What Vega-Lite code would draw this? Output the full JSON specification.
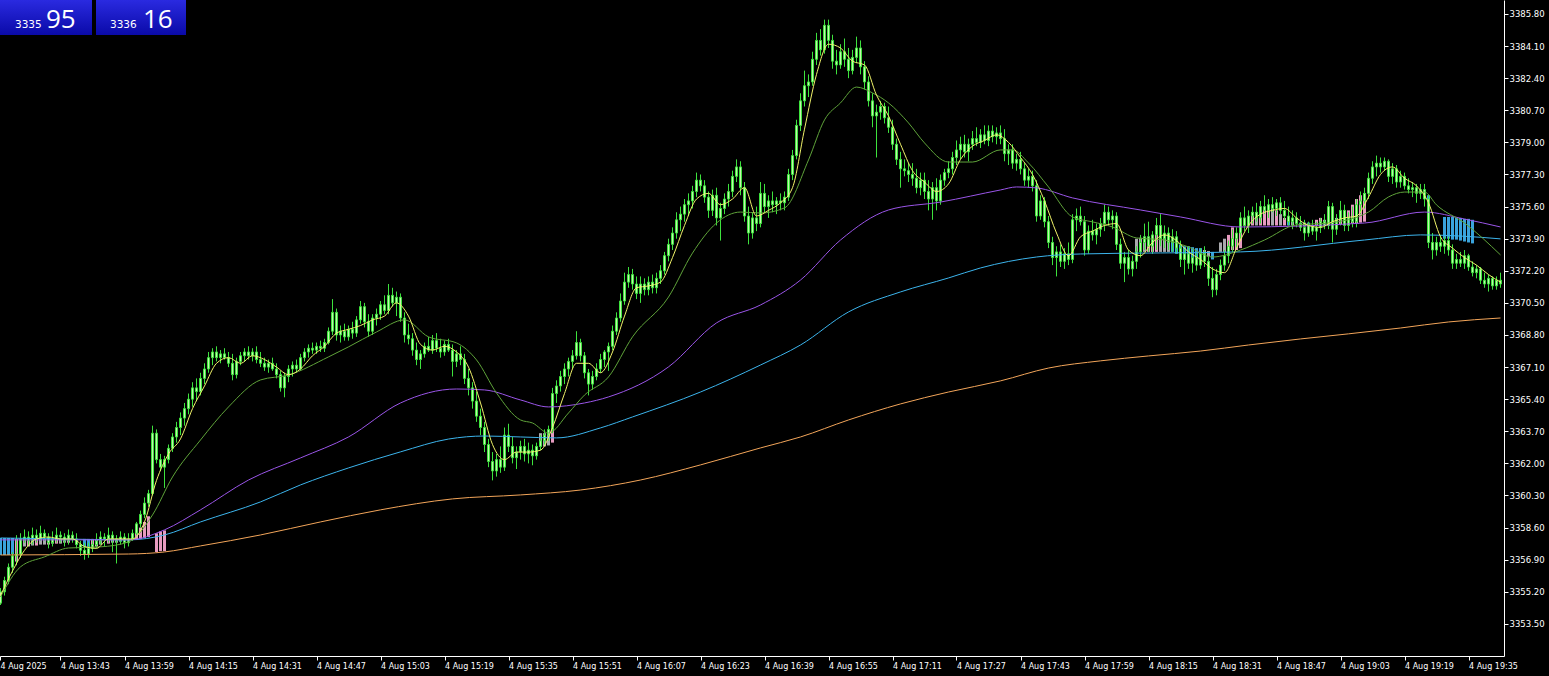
{
"$schema":"https://vega.github.io/schema/vega-lite/v6.json",
"width":1504,"height":656,
"autosize":{"type":"none"},
"padding":{"left":0,"top":0,"right":45,"bottom":20},
"background":"#000000",
"config":{"view":{"stroke":null},"axis":{"grid":false,"domainColor":"#ffffff","tickColor":"#ffffff","labelColor":"#ffffff","labelFont":"DejaVu Sans","labelOverlap":false}},
"datasets":{
"candles":[
{"t":808,"o":3354.6,"h":3355.4,"l":3354.5,"c":3355.2},{"t":809,"o":3355.2,"h":3356.0,"l":3355.0,"c":3355.8},{"t":810,"o":3355.8,"h":3356.7,"l":3355.6,"c":3356.5},{"t":811,"o":3356.5,"h":3357.3,"l":3356.2,"c":3357.1},{"t":812,"o":3357.1,"h":3358.2,"l":3356.6,"c":3357.2},{"t":813,"o":3357.2,"h":3358.3,"l":3357.0,"c":3358.0},
{"t":814,"o":3358.0,"h":3358.5,"l":3357.8,"c":3358.1},{"t":815,"o":3358.1,"h":3358.4,"l":3357.6,"c":3357.9},{"t":816,"o":3357.9,"h":3358.6,"l":3357.7,"c":3358.2},{"t":817,"o":3358.2,"h":3358.5,"l":3357.8,"c":3358.0},{"t":818,"o":3358.0,"h":3358.7,"l":3357.9,"c":3358.3},{"t":819,"o":3358.3,"h":3358.5,"l":3357.9,"c":3358.1},{"t":820,"o":3358.1,"h":3358.3,"l":3357.5,"c":3357.8},{"t":821,"o":3357.8,"h":3358.4,"l":3357.6,"c":3358.0},{"t":822,"o":3358.0,"h":3358.6,"l":3357.8,"c":3358.2},{"t":823,"o":3358.2,"h":3358.4,"l":3357.8,"c":3358.1},{"t":824,"o":3358.1,"h":3358.3,"l":3357.6,"c":3357.9},{"t":825,"o":3357.9,"h":3358.5,"l":3357.7,"c":3358.2},{"t":826,"o":3358.2,"h":3358.4,"l":3357.8,"c":3358.0},{"t":827,"o":3358.0,"h":3358.3,"l":3357.5,"c":3357.7},{"t":828,"o":3357.7,"h":3357.9,"l":3357.1,"c":3357.4},{"t":829,"o":3357.4,"h":3357.8,"l":3356.9,"c":3357.2},{"t":830,"o":3357.2,"h":3357.8,"l":3357.0,"c":3357.5},{"t":831,"o":3357.5,"h":3358.0,"l":3357.3,"c":3357.7},{"t":832,"o":3357.7,"h":3358.3,"l":3357.5,"c":3357.9},{"t":833,"o":3357.9,"h":3358.4,"l":3357.7,"c":3358.1},{"t":834,"o":3358.1,"h":3358.3,"l":3357.6,"c":3358.0},{"t":835,"o":3358.0,"h":3358.6,"l":3357.8,"c":3358.2},{"t":836,"o":3358.2,"h":3358.4,"l":3357.3,"c":3358.0},{"t":837,"o":3358.0,"h":3358.2,"l":3356.7,"c":3357.9},{"t":838,"o":3357.9,"h":3358.4,"l":3357.7,"c":3358.1},{"t":839,"o":3358.1,"h":3358.3,"l":3357.5,"c":3357.8},{"t":840,"o":3357.8,"h":3358.3,"l":3357.6,"c":3358.0},
{"t":841,"o":3358.0,"h":3358.5,"l":3357.9,"c":3358.3},{"t":842,"o":3358.3,"h":3358.9,"l":3358.2,"c":3358.8},{"t":843,"o":3358.8,"h":3359.5,"l":3358.6,"c":3359.3},{"t":844,"o":3359.3,"h":3360.2,"l":3359.1,"c":3359.9},{"t":845,"o":3359.9,"h":3360.6,"l":3359.7,"c":3360.4},{"t":846,"o":3360.4,"h":3364.0,"l":3360.3,"c":3363.6},{"t":847,"o":3363.6,"h":3363.8,"l":3362.0,"c":3362.2},{"t":848,"o":3362.2,"h":3362.5,"l":3361.6,"c":3361.8},{"t":849,"o":3361.8,"h":3362.4,"l":3360.7,"c":3362.2},{"t":850,"o":3362.2,"h":3363.0,"l":3362.0,"c":3362.8},{"t":851,"o":3362.8,"h":3363.6,"l":3362.6,"c":3363.4},{"t":852,"o":3363.4,"h":3364.2,"l":3363.1,"c":3363.9},{"t":853,"o":3363.9,"h":3364.7,"l":3363.5,"c":3364.4},{"t":854,"o":3364.4,"h":3365.2,"l":3364.0,"c":3364.9},{"t":855,"o":3364.9,"h":3365.7,"l":3364.6,"c":3365.4},{"t":856,"o":3365.4,"h":3366.3,"l":3365.0,"c":3366.0},{"t":857,"o":3366.0,"h":3366.5,"l":3365.3,"c":3365.8},{"t":858,"o":3365.8,"h":3366.8,"l":3365.6,"c":3366.5},{"t":859,"o":3366.5,"h":3367.3,"l":3366.2,"c":3367.0},{"t":860,"o":3367.0,"h":3367.9,"l":3366.8,"c":3367.6},{"t":861,"o":3367.6,"h":3368.1,"l":3367.2,"c":3367.9},{"t":862,"o":3367.9,"h":3368.2,"l":3367.4,"c":3367.6},{"t":863,"o":3367.6,"h":3368.0,"l":3367.3,"c":3367.8},{"t":864,"o":3367.8,"h":3368.1,"l":3367.5,"c":3367.6},{"t":865,"o":3367.6,"h":3367.9,"l":3367.1,"c":3367.3},{"t":866,"o":3367.3,"h":3367.8,"l":3366.4,"c":3366.7},{"t":867,"o":3366.7,"h":3367.6,"l":3366.5,"c":3367.4},{"t":868,"o":3367.4,"h":3367.9,"l":3367.2,"c":3367.7},{"t":869,"o":3367.7,"h":3368.1,"l":3367.4,"c":3367.9},{"t":870,"o":3367.9,"h":3368.2,"l":3367.5,"c":3367.7},{"t":871,"o":3367.7,"h":3368.1,"l":3367.4,"c":3367.9},{"t":872,"o":3367.9,"h":3368.2,"l":3367.3,"c":3367.5},
{"t":873,"o":3367.5,"h":3367.9,"l":3367.1,"c":3367.3},{"t":874,"o":3367.3,"h":3367.6,"l":3366.9,"c":3367.1},{"t":875,"o":3367.1,"h":3367.5,"l":3366.8,"c":3367.3},{"t":876,"o":3367.3,"h":3367.6,"l":3366.9,"c":3367.0},{"t":877,"o":3367.0,"h":3367.3,"l":3366.5,"c":3366.7},{"t":878,"o":3366.7,"h":3366.9,"l":3365.8,"c":3366.0},{"t":879,"o":3366.0,"h":3366.8,"l":3365.5,"c":3366.6},{"t":880,"o":3366.6,"h":3367.2,"l":3366.3,"c":3367.0},{"t":881,"o":3367.0,"h":3367.4,"l":3366.6,"c":3367.2},{"t":882,"o":3367.2,"h":3367.5,"l":3366.8,"c":3367.0},{"t":883,"o":3367.0,"h":3367.8,"l":3366.9,"c":3367.6},{"t":884,"o":3367.6,"h":3368.1,"l":3367.4,"c":3367.9},{"t":885,"o":3367.9,"h":3368.3,"l":3367.6,"c":3368.1},{"t":886,"o":3368.1,"h":3368.4,"l":3367.8,"c":3368.0},{"t":887,"o":3368.0,"h":3368.4,"l":3367.8,"c":3368.2},{"t":888,"o":3368.2,"h":3368.5,"l":3367.9,"c":3368.1},{"t":889,"o":3368.1,"h":3368.6,"l":3367.9,"c":3368.4},{"t":890,"o":3368.4,"h":3369.2,"l":3368.3,"c":3369.0},{"t":891,"o":3369.0,"h":3370.7,"l":3368.8,"c":3370.0},{"t":892,"o":3370.0,"h":3370.2,"l":3368.5,"c":3368.8},{"t":893,"o":3368.8,"h":3369.3,"l":3368.4,"c":3369.0},{"t":894,"o":3369.0,"h":3369.4,"l":3368.5,"c":3368.7},{"t":895,"o":3368.7,"h":3369.3,"l":3368.5,"c":3369.1},{"t":896,"o":3369.1,"h":3369.5,"l":3368.6,"c":3368.9},{"t":897,"o":3368.9,"h":3369.8,"l":3368.7,"c":3369.6},{"t":898,"o":3369.6,"h":3370.6,"l":3369.4,"c":3370.3},{"t":899,"o":3370.3,"h":3370.5,"l":3369.2,"c":3369.5},{"t":900,"o":3369.5,"h":3369.9,"l":3368.7,"c":3369.0},{"t":901,"o":3369.0,"h":3369.9,"l":3368.8,"c":3369.7},{"t":902,"o":3369.7,"h":3370.2,"l":3369.3,"c":3369.9},{"t":903,"o":3369.9,"h":3370.6,"l":3369.6,"c":3370.4},{"t":904,"o":3370.4,"h":3370.9,"l":3369.9,"c":3370.1},{"t":905,"o":3370.1,"h":3371.5,"l":3369.9,"c":3370.9},{"t":906,"o":3370.9,"h":3371.3,"l":3370.3,"c":3370.5},{"t":907,"o":3370.5,"h":3371.1,"l":3369.8,"c":3370.8},
{"t":908,"o":3370.8,"h":3371.0,"l":3369.5,"c":3369.7},{"t":909,"o":3369.7,"h":3370.0,"l":3368.4,"c":3368.8},{"t":910,"o":3368.8,"h":3369.4,"l":3368.3,"c":3368.6},{"t":911,"o":3368.6,"h":3368.9,"l":3367.7,"c":3368.0},{"t":912,"o":3368.0,"h":3368.4,"l":3367.2,"c":3367.5},{"t":913,"o":3367.5,"h":3368.0,"l":3367.0,"c":3367.8},{"t":914,"o":3367.8,"h":3368.4,"l":3367.6,"c":3368.2},{"t":915,"o":3368.2,"h":3368.7,"l":3367.9,"c":3368.0},{"t":916,"o":3368.0,"h":3368.8,"l":3367.8,"c":3368.5},{"t":917,"o":3368.5,"h":3368.9,"l":3367.9,"c":3368.1},{"t":918,"o":3368.1,"h":3368.6,"l":3367.6,"c":3367.9},{"t":919,"o":3367.9,"h":3368.5,"l":3367.7,"c":3368.3},{"t":920,"o":3368.3,"h":3368.6,"l":3367.9,"c":3368.0},{"t":921,"o":3368.0,"h":3368.3,"l":3366.6,"c":3367.4},{"t":922,"o":3367.4,"h":3368.0,"l":3367.1,"c":3367.8},{"t":923,"o":3367.8,"h":3368.2,"l":3367.2,"c":3367.5},{"t":924,"o":3367.5,"h":3367.8,"l":3366.2,"c":3366.5},{"t":925,"o":3366.5,"h":3367.0,"l":3365.6,"c":3366.0},{"t":926,"o":3366.0,"h":3366.3,"l":3364.9,"c":3365.3},{"t":927,"o":3365.3,"h":3365.8,"l":3364.2,"c":3364.5},{"t":928,"o":3364.5,"h":3364.9,"l":3363.5,"c":3363.9},{"t":929,"o":3363.9,"h":3364.2,"l":3362.6,"c":3363.0},{"t":930,"o":3363.0,"h":3363.3,"l":3361.8,"c":3362.1},{"t":931,"o":3362.1,"h":3362.6,"l":3361.1,"c":3361.6},{"t":932,"o":3361.6,"h":3362.5,"l":3361.3,"c":3362.2},{"t":933,"o":3362.2,"h":3362.9,"l":3361.5,"c":3361.8},{"t":934,"o":3361.8,"h":3363.9,"l":3361.6,"c":3363.5},{"t":935,"o":3363.5,"h":3364.1,"l":3362.6,"c":3362.9},{"t":936,"o":3362.9,"h":3363.4,"l":3362.0,"c":3362.3},{"t":937,"o":3362.3,"h":3362.9,"l":3361.7,"c":3362.6},{"t":938,"o":3362.6,"h":3363.2,"l":3362.2,"c":3362.9},{"t":939,"o":3362.9,"h":3363.3,"l":3362.1,"c":3362.5},{"t":940,"o":3362.5,"h":3363.1,"l":3362.0,"c":3362.7},{"t":941,"o":3362.7,"h":3363.0,"l":3361.9,"c":3362.4},{"t":942,"o":3362.4,"h":3363.1,"l":3362.2,"c":3362.9},{"t":943,"o":3362.9,"h":3363.5,"l":3362.7,"c":3363.2},{"t":944,"o":3363.2,"h":3363.8,"l":3363.0,"c":3363.5},{"t":945,"o":3363.5,"h":3364.0,"l":3363.2,"c":3363.8},
{"t":946,"o":3363.8,"h":3366.0,"l":3363.6,"c":3365.7},{"t":947,"o":3365.7,"h":3366.4,"l":3365.2,"c":3366.1},{"t":948,"o":3366.1,"h":3366.9,"l":3365.8,"c":3366.6},{"t":949,"o":3366.6,"h":3367.3,"l":3366.2,"c":3367.0},{"t":950,"o":3367.0,"h":3367.6,"l":3366.6,"c":3367.4},{"t":951,"o":3367.4,"h":3368.0,"l":3367.0,"c":3367.7},{"t":952,"o":3367.7,"h":3369.0,"l":3367.5,"c":3368.4},{"t":953,"o":3368.4,"h":3368.6,"l":3367.4,"c":3367.7},{"t":954,"o":3367.7,"h":3367.9,"l":3366.5,"c":3366.8},{"t":955,"o":3366.8,"h":3367.0,"l":3365.6,"c":3366.2},{"t":956,"o":3366.2,"h":3366.9,"l":3365.9,"c":3366.6},{"t":957,"o":3366.6,"h":3367.3,"l":3366.4,"c":3367.0},{"t":958,"o":3367.0,"h":3367.8,"l":3366.8,"c":3367.5},{"t":959,"o":3367.5,"h":3368.0,"l":3367.1,"c":3367.9},{"t":960,"o":3367.9,"h":3368.4,"l":3366.9,"c":3368.2},{"t":961,"o":3368.2,"h":3369.3,"l":3368.0,"c":3369.0},{"t":962,"o":3369.0,"h":3370.0,"l":3368.8,"c":3369.7},{"t":963,"o":3369.7,"h":3371.0,"l":3369.5,"c":3370.6},{"t":964,"o":3370.6,"h":3372.1,"l":3370.4,"c":3371.6},{"t":965,"o":3371.6,"h":3372.4,"l":3371.3,"c":3372.0},{"t":966,"o":3372.0,"h":3372.3,"l":3371.2,"c":3371.5},{"t":967,"o":3371.5,"h":3371.9,"l":3370.7,"c":3371.0},{"t":968,"o":3371.0,"h":3371.9,"l":3370.5,"c":3371.5},{"t":969,"o":3371.5,"h":3371.8,"l":3370.9,"c":3371.2},{"t":970,"o":3371.2,"h":3371.9,"l":3370.9,"c":3371.6},{"t":971,"o":3371.6,"h":3372.0,"l":3371.0,"c":3371.3},{"t":972,"o":3371.3,"h":3372.1,"l":3371.0,"c":3371.8},{"t":973,"o":3371.8,"h":3372.5,"l":3371.5,"c":3372.2},{"t":974,"o":3372.2,"h":3373.2,"l":3372.0,"c":3373.0},{"t":975,"o":3373.0,"h":3373.9,"l":3372.7,"c":3373.6},{"t":976,"o":3373.6,"h":3374.5,"l":3373.3,"c":3374.2},{"t":977,"o":3374.2,"h":3375.3,"l":3373.9,"c":3374.9},{"t":978,"o":3374.9,"h":3375.6,"l":3374.3,"c":3375.2},{"t":979,"o":3375.2,"h":3376.0,"l":3374.8,"c":3375.7},{"t":980,"o":3375.7,"h":3376.3,"l":3375.1,"c":3375.9},{"t":981,"o":3375.9,"h":3376.7,"l":3375.5,"c":3376.4},{"t":982,"o":3376.4,"h":3377.4,"l":3376.1,"c":3377.0},{"t":983,"o":3377.0,"h":3377.3,"l":3376.4,"c":3376.7},{"t":984,"o":3376.7,"h":3377.0,"l":3375.8,"c":3376.1},{"t":985,"o":3376.1,"h":3376.4,"l":3375.0,"c":3375.4},{"t":986,"o":3375.4,"h":3376.5,"l":3375.1,"c":3376.2},{"t":987,"o":3376.2,"h":3376.6,"l":3374.6,"c":3375.0},{"t":988,"o":3375.0,"h":3375.8,"l":3373.8,"c":3375.5},{"t":989,"o":3375.5,"h":3376.3,"l":3375.2,"c":3376.0},{"t":990,"o":3376.0,"h":3376.8,"l":3375.6,"c":3376.4},{"t":991,"o":3376.4,"h":3377.5,"l":3376.1,"c":3377.2},{"t":992,"o":3377.2,"h":3378.1,"l":3376.9,"c":3377.7},{"t":993,"o":3377.7,"h":3378.0,"l":3376.2,"c":3376.6},{"t":994,"o":3376.6,"h":3376.9,"l":3374.8,"c":3375.1},{"t":995,"o":3375.1,"h":3375.6,"l":3373.6,"c":3374.2},{"t":996,"o":3374.2,"h":3375.3,"l":3373.9,"c":3375.0},{"t":997,"o":3375.0,"h":3375.6,"l":3374.3,"c":3374.7},
{"t":998,"o":3374.7,"h":3376.9,"l":3374.5,"c":3376.3},{"t":999,"o":3376.3,"h":3376.8,"l":3375.3,"c":3375.6},{"t":1000,"o":3375.6,"h":3376.2,"l":3375.0,"c":3375.9},{"t":1001,"o":3375.9,"h":3376.4,"l":3375.3,"c":3375.7},{"t":1002,"o":3375.7,"h":3376.1,"l":3375.2,"c":3375.9},{"t":1003,"o":3375.9,"h":3376.3,"l":3375.4,"c":3375.8},{"t":1004,"o":3375.8,"h":3376.4,"l":3375.4,"c":3376.1},{"t":1005,"o":3376.1,"h":3377.6,"l":3375.9,"c":3377.3},{"t":1006,"o":3377.3,"h":3378.6,"l":3377.0,"c":3378.3},{"t":1007,"o":3378.3,"h":3380.2,"l":3378.1,"c":3379.9},{"t":1008,"o":3379.9,"h":3381.6,"l":3379.6,"c":3381.2},{"t":1009,"o":3381.2,"h":3382.8,"l":3380.9,"c":3382.0},{"t":1010,"o":3382.0,"h":3382.6,"l":3381.4,"c":3382.2},{"t":1011,"o":3382.2,"h":3383.8,"l":3382.0,"c":3383.4},{"t":1012,"o":3383.4,"h":3384.8,"l":3383.1,"c":3384.4},{"t":1013,"o":3384.4,"h":3385.0,"l":3383.6,"c":3383.9},{"t":1014,"o":3383.9,"h":3385.5,"l":3383.7,"c":3385.2},{"t":1015,"o":3385.2,"h":3385.5,"l":3384.0,"c":3384.4},{"t":1016,"o":3384.4,"h":3384.7,"l":3382.9,"c":3383.3},{"t":1017,"o":3383.3,"h":3383.9,"l":3382.6,"c":3383.1},{"t":1018,"o":3383.1,"h":3384.2,"l":3382.9,"c":3383.8},{"t":1019,"o":3383.8,"h":3384.5,"l":3383.0,"c":3383.4},{"t":1020,"o":3383.4,"h":3384.0,"l":3382.4,"c":3382.8},{"t":1021,"o":3382.8,"h":3383.9,"l":3382.6,"c":3383.5},{"t":1022,"o":3383.5,"h":3384.6,"l":3383.2,"c":3384.0},{"t":1023,"o":3384.0,"h":3384.4,"l":3382.6,"c":3383.0},{"t":1024,"o":3383.0,"h":3383.3,"l":3381.8,"c":3382.2},{"t":1025,"o":3382.2,"h":3382.5,"l":3380.9,"c":3381.2},{"t":1026,"o":3381.2,"h":3381.6,"l":3379.8,"c":3380.4},{"t":1027,"o":3380.4,"h":3381.0,"l":3378.2,"c":3380.6},{"t":1028,"o":3380.6,"h":3381.2,"l":3380.2,"c":3380.9},{"t":1029,"o":3380.9,"h":3381.1,"l":3380.0,"c":3380.3},{"t":1030,"o":3380.3,"h":3380.9,"l":3379.5,"c":3379.8},{"t":1031,"o":3379.8,"h":3380.2,"l":3378.6,"c":3378.9},{"t":1032,"o":3378.9,"h":3379.2,"l":3377.8,"c":3378.1},{"t":1033,"o":3378.1,"h":3378.5,"l":3376.6,"c":3377.6},{"t":1034,"o":3377.6,"h":3378.1,"l":3377.2,"c":3377.5},{"t":1035,"o":3377.5,"h":3377.9,"l":3376.9,"c":3377.3},{"t":1036,"o":3377.3,"h":3377.9,"l":3376.7,"c":3377.1},{"t":1037,"o":3377.1,"h":3377.6,"l":3376.3,"c":3376.6},{"t":1038,"o":3376.6,"h":3377.4,"l":3376.2,"c":3377.0},{"t":1039,"o":3377.0,"h":3377.4,"l":3376.0,"c":3376.4},{"t":1040,"o":3376.4,"h":3377.0,"l":3375.4,"c":3376.0},{"t":1041,"o":3376.0,"h":3376.9,"l":3374.9,"c":3376.6},{"t":1042,"o":3376.6,"h":3377.1,"l":3375.4,"c":3375.9},{"t":1043,"o":3375.9,"h":3377.3,"l":3375.7,"c":3377.0},{"t":1044,"o":3377.0,"h":3377.6,"l":3376.7,"c":3377.4},{"t":1045,"o":3377.4,"h":3378.0,"l":3377.1,"c":3377.6},{"t":1046,"o":3377.6,"h":3378.5,"l":3377.3,"c":3378.2},{"t":1047,"o":3378.2,"h":3379.1,"l":3377.8,"c":3378.6},{"t":1048,"o":3378.6,"h":3379.3,"l":3378.1,"c":3378.9},{"t":1049,"o":3378.9,"h":3379.4,"l":3378.2,"c":3378.5},{"t":1050,"o":3378.5,"h":3379.2,"l":3378.0,"c":3378.9},{"t":1051,"o":3378.9,"h":3379.6,"l":3378.6,"c":3379.2},{"t":1052,"o":3379.2,"h":3379.8,"l":3378.8,"c":3379.0},{"t":1053,"o":3379.0,"h":3379.7,"l":3378.7,"c":3379.4},{"t":1054,"o":3379.4,"h":3379.9,"l":3378.9,"c":3379.1},{"t":1055,"o":3379.1,"h":3379.9,"l":3378.8,"c":3379.6},{"t":1056,"o":3379.6,"h":3379.9,"l":3379.0,"c":3379.3},{"t":1057,"o":3379.3,"h":3379.8,"l":3378.9,"c":3379.5},
{"t":1058,"o":3379.5,"h":3379.9,"l":3378.9,"c":3379.2},{"t":1059,"o":3379.2,"h":3379.7,"l":3378.0,"c":3378.4},{"t":1060,"o":3378.4,"h":3378.9,"l":3377.8,"c":3378.6},{"t":1061,"o":3378.6,"h":3378.9,"l":3377.6,"c":3377.9},{"t":1062,"o":3377.9,"h":3378.4,"l":3377.5,"c":3378.1},{"t":1063,"o":3378.1,"h":3378.5,"l":3377.3,"c":3377.6},{"t":1064,"o":3377.6,"h":3377.9,"l":3376.7,"c":3377.0},{"t":1065,"o":3377.0,"h":3377.6,"l":3376.6,"c":3377.2},{"t":1066,"o":3377.2,"h":3377.5,"l":3376.4,"c":3376.7},{"t":1067,"o":3376.7,"h":3377.0,"l":3374.8,"c":3375.1},{"t":1068,"o":3375.1,"h":3376.2,"l":3374.9,"c":3375.9},{"t":1069,"o":3375.9,"h":3376.1,"l":3374.5,"c":3374.8},{"t":1070,"o":3374.8,"h":3375.1,"l":3373.4,"c":3373.7},{"t":1071,"o":3373.7,"h":3374.0,"l":3372.5,"c":3372.9},{"t":1072,"o":3372.9,"h":3373.5,"l":3371.9,"c":3373.2},{"t":1073,"o":3373.2,"h":3373.6,"l":3372.4,"c":3372.7},{"t":1074,"o":3372.7,"h":3373.4,"l":3372.3,"c":3373.1},{"t":1075,"o":3373.1,"h":3373.7,"l":3372.5,"c":3372.8},{"t":1076,"o":3372.8,"h":3375.2,"l":3372.6,"c":3374.9},{"t":1077,"o":3374.9,"h":3375.5,"l":3374.3,"c":3375.1},{"t":1078,"o":3375.1,"h":3375.6,"l":3374.6,"c":3374.8},{"t":1079,"o":3374.8,"h":3375.1,"l":3373.0,"c":3373.3},{"t":1080,"o":3373.3,"h":3374.6,"l":3373.1,"c":3374.3},{"t":1081,"o":3374.3,"h":3374.9,"l":3373.8,"c":3374.1},{"t":1082,"o":3374.1,"h":3374.7,"l":3373.6,"c":3374.4},{"t":1083,"o":3374.4,"h":3375.0,"l":3374.0,"c":3374.7},{"t":1084,"o":3374.7,"h":3375.7,"l":3374.3,"c":3375.3},{"t":1085,"o":3375.3,"h":3375.6,"l":3374.6,"c":3374.9},{"t":1086,"o":3374.9,"h":3375.4,"l":3374.4,"c":3375.1},{"t":1087,"o":3375.1,"h":3375.3,"l":3373.3,"c":3373.6},{"t":1088,"o":3373.6,"h":3373.9,"l":3372.3,"c":3372.6},{"t":1089,"o":3372.6,"h":3373.2,"l":3371.6,"c":3372.9},{"t":1090,"o":3372.9,"h":3373.3,"l":3372.0,"c":3372.3},{"t":1091,"o":3372.3,"h":3373.0,"l":3371.9,"c":3372.7},{"t":1092,"o":3372.7,"h":3373.5,"l":3372.3,"c":3373.2},{"t":1093,"o":3373.2,"h":3374.1,"l":3372.9,"c":3373.7},{"t":1094,"o":3373.7,"h":3374.7,"l":3373.3,"c":3374.0},{"t":1095,"o":3374.0,"h":3374.8,"l":3373.2,"c":3373.5},{"t":1096,"o":3373.5,"h":3374.3,"l":3373.1,"c":3374.1},{"t":1097,"o":3374.1,"h":3375.0,"l":3373.3,"c":3374.6},{"t":1098,"o":3374.6,"h":3375.2,"l":3373.5,"c":3373.9},{"t":1099,"o":3373.9,"h":3374.6,"l":3373.4,"c":3374.2},{"t":1100,"o":3374.2,"h":3374.5,"l":3373.3,"c":3373.7},{"t":1101,"o":3373.7,"h":3374.4,"l":3373.2,"c":3374.0},{"t":1102,"o":3374.0,"h":3374.3,"l":3373.1,"c":3373.4},{"t":1103,"o":3373.4,"h":3373.8,"l":3372.4,"c":3372.8},{"t":1104,"o":3372.8,"h":3373.4,"l":3372.0,"c":3373.1},{"t":1105,"o":3373.1,"h":3373.5,"l":3372.3,"c":3372.6},{"t":1106,"o":3372.6,"h":3373.3,"l":3372.1,"c":3372.9},{"t":1107,"o":3372.9,"h":3373.2,"l":3372.2,"c":3372.5},{"t":1108,"o":3372.5,"h":3373.4,"l":3372.3,"c":3373.1},{"t":1109,"o":3373.1,"h":3373.5,"l":3372.4,"c":3372.7},{"t":1110,"o":3372.7,"h":3373.0,"l":3371.4,"c":3371.8},{"t":1111,"o":3371.8,"h":3372.4,"l":3370.8,"c":3371.2},{"t":1112,"o":3371.2,"h":3372.3,"l":3370.9,"c":3372.0},{"t":1113,"o":3372.0,"h":3372.8,"l":3371.7,"c":3372.5},{"t":1114,"o":3372.5,"h":3373.3,"l":3372.2,"c":3373.0},{"t":1115,"o":3373.0,"h":3373.8,"l":3372.6,"c":3373.5},{"t":1116,"o":3373.5,"h":3374.4,"l":3373.2,"c":3373.9},{"t":1117,"o":3373.9,"h":3374.5,"l":3373.4,"c":3374.2},
{"t":1118,"o":3374.2,"h":3375.3,"l":3373.9,"c":3375.0},{"t":1119,"o":3375.0,"h":3375.6,"l":3374.3,"c":3374.6},{"t":1120,"o":3374.6,"h":3375.4,"l":3374.2,"c":3375.1},{"t":1121,"o":3375.1,"h":3375.6,"l":3374.7,"c":3375.3},{"t":1122,"o":3375.3,"h":3375.8,"l":3374.8,"c":3375.0},{"t":1123,"o":3375.0,"h":3375.9,"l":3374.7,"c":3375.6},{"t":1124,"o":3375.6,"h":3376.2,"l":3375.2,"c":3375.4},{"t":1125,"o":3375.4,"h":3376.0,"l":3375.0,"c":3375.7},{"t":1126,"o":3375.7,"h":3376.1,"l":3375.3,"c":3375.5},{"t":1127,"o":3375.5,"h":3376.0,"l":3375.1,"c":3375.8},{"t":1128,"o":3375.8,"h":3376.1,"l":3375.2,"c":3375.4},{"t":1129,"o":3375.4,"h":3375.9,"l":3374.9,"c":3375.1},{"t":1130,"o":3375.1,"h":3375.6,"l":3374.6,"c":3374.8},{"t":1131,"o":3374.8,"h":3375.4,"l":3374.4,"c":3375.0},{"t":1132,"o":3375.0,"h":3375.3,"l":3374.5,"c":3374.7},{"t":1133,"o":3374.7,"h":3375.1,"l":3374.3,"c":3374.5},{"t":1134,"o":3374.5,"h":3374.9,"l":3373.8,"c":3374.2},{"t":1135,"o":3374.2,"h":3374.8,"l":3374.0,"c":3374.6},{"t":1136,"o":3374.6,"h":3374.9,"l":3374.1,"c":3374.3},{"t":1137,"o":3374.3,"h":3374.8,"l":3373.8,"c":3374.5},{"t":1138,"o":3374.5,"h":3375.0,"l":3374.2,"c":3374.8},{"t":1139,"o":3374.8,"h":3375.2,"l":3374.4,"c":3374.6},{"t":1140,"o":3374.6,"h":3375.9,"l":3374.4,"c":3375.6},{"t":1141,"o":3375.6,"h":3375.8,"l":3373.7,"c":3374.4},{"t":1142,"o":3374.4,"h":3375.2,"l":3374.1,"c":3374.9},{"t":1143,"o":3374.9,"h":3375.9,"l":3374.6,"c":3375.4},{"t":1144,"o":3375.4,"h":3375.7,"l":3374.3,"c":3374.6},{"t":1145,"o":3374.6,"h":3375.3,"l":3374.3,"c":3375.0},{"t":1146,"o":3375.0,"h":3375.6,"l":3374.5,"c":3374.8},{"t":1147,"o":3374.8,"h":3376.0,"l":3374.5,"c":3375.7},{"t":1148,"o":3375.7,"h":3376.4,"l":3375.2,"c":3375.9},{"t":1149,"o":3375.9,"h":3376.6,"l":3375.5,"c":3376.3},{"t":1150,"o":3376.3,"h":3377.4,"l":3376.0,"c":3377.1},{"t":1151,"o":3377.1,"h":3378.0,"l":3376.8,"c":3377.7},{"t":1152,"o":3377.7,"h":3378.3,"l":3377.2,"c":3377.9},{"t":1153,"o":3377.9,"h":3378.2,"l":3377.4,"c":3377.7},{"t":1154,"o":3377.7,"h":3378.2,"l":3377.5,"c":3378.0},{"t":1155,"o":3378.0,"h":3378.1,"l":3376.9,"c":3377.2},{"t":1156,"o":3377.2,"h":3377.9,"l":3376.8,"c":3377.6},{"t":1157,"o":3377.6,"h":3377.8,"l":3376.6,"c":3376.9},{"t":1158,"o":3376.9,"h":3377.5,"l":3376.6,"c":3377.2},{"t":1159,"o":3377.2,"h":3377.4,"l":3376.5,"c":3376.7},{"t":1160,"o":3376.7,"h":3377.1,"l":3376.3,"c":3376.5},{"t":1161,"o":3376.5,"h":3376.9,"l":3376.1,"c":3376.6},{"t":1162,"o":3376.6,"h":3376.8,"l":3375.8,"c":3376.3},{"t":1163,"o":3376.3,"h":3376.8,"l":3376.0,"c":3376.5},{"t":1164,"o":3376.5,"h":3376.8,"l":3375.6,"c":3376.0},{"t":1165,"o":3376.0,"h":3376.2,"l":3373.4,"c":3373.7},{"t":1166,"o":3373.7,"h":3374.2,"l":3372.8,"c":3373.3},{"t":1167,"o":3373.3,"h":3374.0,"l":3373.0,"c":3373.7},{"t":1168,"o":3373.7,"h":3374.1,"l":3373.2,"c":3373.5},{"t":1169,"o":3373.5,"h":3374.0,"l":3373.1,"c":3373.8},{"t":1170,"o":3373.8,"h":3374.0,"l":3373.0,"c":3373.3},{"t":1171,"o":3373.3,"h":3373.6,"l":3372.3,"c":3372.6},{"t":1172,"o":3372.6,"h":3373.1,"l":3372.3,"c":3372.8},{"t":1173,"o":3372.8,"h":3373.2,"l":3372.4,"c":3372.6},{"t":1174,"o":3372.6,"h":3373.3,"l":3372.3,"c":3373.0},{"t":1175,"o":3373.0,"h":3373.1,"l":3372.2,"c":3372.4},{"t":1176,"o":3372.4,"h":3372.7,"l":3371.9,"c":3372.1},{"t":1177,"o":3372.1,"h":3372.5,"l":3371.8,"c":3372.3},{"t":1178,"o":3372.3,"h":3372.4,"l":3371.5,"c":3371.7},{"t":1179,"o":3371.7,"h":3372.1,"l":3371.3,"c":3371.5},{"t":1180,"o":3371.5,"h":3372.0,"l":3371.1,"c":3371.8},{"t":1181,"o":3371.8,"h":3371.9,"l":3371.2,"c":3371.4},{"t":1182,"o":3371.4,"h":3371.9,"l":3371.2,"c":3371.7},{"t":1183,"o":3371.7,"h":3372.1,"l":3371.3,"c":3371.5}
],
"ma":[
{"s":"ma200","t":808,"p":3357.15},{"s":"ma200","t":840,"p":3357.2},{"s":"ma200","t":849,"p":3357.31},{"s":"ma200","t":858,"p":3357.63},{"s":"ma200","t":873,"p":3358.21},{"s":"ma200","t":888,"p":3358.9},{"s":"ma200","t":903,"p":3359.54},{"s":"ma200","t":921,"p":3360.12},{"s":"ma200","t":938,"p":3360.33},{"s":"ma200","t":953,"p":3360.59},{"s":"ma200","t":968,"p":3361.12},{"s":"ma200","t":983,"p":3361.92},{"s":"ma200","t":998,"p":3362.82},{"s":"ma200","t":1008,"p":3363.4},{"s":"ma200","t":1020,"p":3364.3},{"s":"ma200","t":1033,"p":3365.15},{"s":"ma200","t":1045,"p":3365.78},{"s":"ma200","t":1058,"p":3366.37},{"s":"ma200","t":1070,"p":3367.05},{"s":"ma200","t":1083,"p":3367.43},{"s":"ma200","t":1095,"p":3367.69},{"s":"ma200","t":1108,"p":3367.95},{"s":"ma200","t":1120,"p":3368.27},{"s":"ma200","t":1133,"p":3368.59},{"s":"ma200","t":1145,"p":3368.86},{"s":"ma200","t":1158,"p":3369.17},{"s":"ma200","t":1170,"p":3369.49},{"s":"ma200","t":1183,"p":3369.7},
{"s":"ma100","t":808,"p":3358.05},{"s":"ma100","t":823,"p":3358.0},{"s":"ma100","t":840,"p":3357.95},{"s":"ma100","t":849,"p":3358.21},{"s":"ma100","t":858,"p":3358.9},{"s":"ma100","t":873,"p":3359.96},{"s":"ma100","t":883,"p":3360.86},{"s":"ma100","t":895,"p":3361.76},{"s":"ma100","t":908,"p":3362.61},{"s":"ma100","t":920,"p":3363.29},{"s":"ma100","t":929,"p":3363.45},{"s":"ma100","t":938,"p":3363.4},{"s":"ma100","t":947,"p":3363.35},{"s":"ma100","t":958,"p":3363.88},{"s":"ma100","t":966,"p":3364.46},{"s":"ma100","t":983,"p":3365.78},{"s":"ma100","t":998,"p":3367.21},{"s":"ma100","t":1008,"p":3368.27},{"s":"ma100","t":1020,"p":3370.02},{"s":"ma100","t":1033,"p":3371.08},{"s":"ma100","t":1045,"p":3371.82},{"s":"ma100","t":1053,"p":3372.35},{"s":"ma100","t":1067,"p":3372.93},{"s":"ma100","t":1078,"p":3373.09},{"s":"ma100","t":1118,"p":3373.2},{"s":"ma100","t":1149,"p":3373.83},{"s":"ma100","t":1163,"p":3374.1},{"s":"ma100","t":1173,"p":3374.04},{"s":"ma100","t":1183,"p":3373.89},
{"s":"ma50","t":808,"p":3357.95},{"s":"ma50","t":840,"p":3357.95},{"s":"ma50","t":849,"p":3358.48},{"s":"ma50","t":858,"p":3359.54},{"s":"ma50","t":870,"p":3361.12},{"s":"ma50","t":883,"p":3362.29},{"s":"ma50","t":895,"p":3363.4},{"s":"ma50","t":908,"p":3365.2},{"s":"ma50","t":922,"p":3365.94},{"s":"ma50","t":929,"p":3365.89},{"s":"ma50","t":938,"p":3365.36},{"s":"ma50","t":945,"p":3364.99},{"s":"ma50","t":954,"p":3365.2},{"s":"ma50","t":960,"p":3365.52},{"s":"ma50","t":975,"p":3367.11},{"s":"ma50","t":987,"p":3369.44},{"s":"ma50","t":998,"p":3370.39},{"s":"ma50","t":1008,"p":3371.71},{"s":"ma50","t":1018,"p":3373.83},{"s":"ma50","t":1030,"p":3375.42},{"s":"ma50","t":1043,"p":3375.84},{"s":"ma50","t":1058,"p":3376.48},{"s":"ma50","t":1062,"p":3376.64},{"s":"ma50","t":1067,"p":3376.59},{"s":"ma50","t":1076,"p":3376.06},{"s":"ma50","t":1093,"p":3375.42},{"s":"ma50","t":1103,"p":3375.05},{"s":"ma50","t":1118,"p":3374.52},{"s":"ma50","t":1149,"p":3374.73},{"s":"ma50","t":1164,"p":3375.31},{"s":"ma50","t":1174,"p":3374.94},{"s":"ma50","t":1183,"p":3374.52},
{"s":"mid","t":808,"p":3354.93},{"s":"mid","t":813,"p":3356.52},{"s":"mid","t":819,"p":3357.05},{"s":"mid","t":825,"p":3357.52},{"s":"mid","t":833,"p":3357.58},{"s":"mid","t":840,"p":3357.84},{"s":"mid","t":846,"p":3359.27},{"s":"mid","t":851,"p":3361.28},{"s":"mid","t":858,"p":3363.24},{"s":"mid","t":865,"p":3364.99},{"s":"mid","t":873,"p":3366.42},{"s":"mid","t":880,"p":3366.68},{"s":"mid","t":890,"p":3367.64},{"s":"mid","t":895,"p":3368.17},{"s":"mid","t":902,"p":3368.96},{"s":"mid","t":909,"p":3369.6},{"s":"mid","t":915,"p":3368.7},{"s":"mid","t":922,"p":3368.38},{"s":"mid","t":927,"p":3367.48},{"s":"mid","t":932,"p":3365.73},{"s":"mid","t":938,"p":3364.3},{"s":"mid","t":941,"p":3364.14},{"s":"mid","t":945,"p":3363.61},{"s":"mid","t":950,"p":3364.67},{"s":"mid","t":954,"p":3365.62},{"s":"mid","t":960,"p":3366.58},{"s":"mid","t":966,"p":3368.7},{"s":"mid","t":975,"p":3370.81},{"s":"mid","t":981,"p":3373.14},{"s":"mid","t":987,"p":3374.73},{"s":"mid","t":993,"p":3375.31},{"s":"mid","t":998,"p":3375.26},{"s":"mid","t":1004,"p":3375.53},{"s":"mid","t":1010,"p":3378.07},{"s":"mid","t":1014,"p":3380.19},{"s":"mid","t":1018,"p":3381.09},{"s":"mid","t":1022,"p":3381.93},{"s":"mid","t":1026,"p":3381.62},{"s":"mid","t":1030,"p":3381.09},{"s":"mid","t":1035,"p":3380.03},{"s":"mid","t":1039,"p":3378.97},{"s":"mid","t":1045,"p":3377.96},{"s":"mid","t":1051,"p":3377.96},{"s":"mid","t":1058,"p":3378.6},{"s":"mid","t":1061,"p":3378.6},{"s":"mid","t":1065,"p":3377.91},{"s":"mid","t":1070,"p":3376.64},{"s":"mid","t":1076,"p":3375.05},{"s":"mid","t":1081,"p":3374.79},{"s":"mid","t":1086,"p":3374.52},{"s":"mid","t":1092,"p":3373.94},{"s":"mid","t":1099,"p":3373.83},{"s":"mid","t":1105,"p":3373.46},{"s":"mid","t":1111,"p":3372.93},{"s":"mid","t":1118,"p":3373.3},{"s":"mid","t":1124,"p":3373.83},{"s":"mid","t":1132,"p":3374.63},{"s":"mid","t":1140,"p":3374.73},{"s":"mid","t":1150,"p":3375.31},{"s":"mid","t":1155,"p":3376.11},{"s":"mid","t":1159,"p":3376.37},{"s":"mid","t":1164,"p":3376.37},{"s":"mid","t":1167,"p":3375.69},{"s":"mid","t":1174,"p":3374.73},{"s":"mid","t":1183,"p":3373.04},
{"s":"fast","t":808,"p":3355.0},{"s":"fast","t":811,"p":3356.3},{"s":"fast","t":814,"p":3357.4},{"s":"fast","t":817,"p":3358.0},{"s":"fast","t":820,"p":3358.1},{"s":"fast","t":823,"p":3358.0},{"s":"fast","t":826,"p":3358.0},{"s":"fast","t":829,"p":3357.6},{"s":"fast","t":832,"p":3357.5},{"s":"fast","t":835,"p":3358.0},{"s":"fast","t":838,"p":3358.0},{"s":"fast","t":841,"p":3358.0},{"s":"fast","t":844,"p":3358.9},{"s":"fast","t":847,"p":3361.1},{"s":"fast","t":850,"p":3362.5},{"s":"fast","t":853,"p":3363.3},{"s":"fast","t":856,"p":3364.9},{"s":"fast","t":859,"p":3366.1},{"s":"fast","t":862,"p":3367.3},{"s":"fast","t":865,"p":3367.6},{"s":"fast","t":868,"p":3367.3},{"s":"fast","t":871,"p":3367.7},{"s":"fast","t":874,"p":3367.5},{"s":"fast","t":877,"p":3367.1},{"s":"fast","t":880,"p":3366.7},{"s":"fast","t":883,"p":3367.0},{"s":"fast","t":886,"p":3367.7},{"s":"fast","t":889,"p":3368.2},{"s":"fast","t":892,"p":3368.9},{"s":"fast","t":895,"p":3369.1},{"s":"fast","t":898,"p":3369.3},{"s":"fast","t":901,"p":3369.6},{"s":"fast","t":904,"p":3369.8},{"s":"fast","t":907,"p":3370.5},{"s":"fast","t":910,"p":3369.8},{"s":"fast","t":913,"p":3368.3},{"s":"fast","t":916,"p":3368.0},{"s":"fast","t":919,"p":3368.2},{"s":"fast","t":922,"p":3367.9},{"s":"fast","t":925,"p":3367.1},{"s":"fast","t":928,"p":3365.2},{"s":"fast","t":931,"p":3363.0},{"s":"fast","t":934,"p":3362.2},{"s":"fast","t":937,"p":3362.6},{"s":"fast","t":940,"p":3362.6},{"s":"fast","t":943,"p":3362.7},{"s":"fast","t":946,"p":3363.9},{"s":"fast","t":949,"p":3365.7},{"s":"fast","t":952,"p":3367.3},{"s":"fast","t":955,"p":3367.3},{"s":"fast","t":958,"p":3366.8},{"s":"fast","t":961,"p":3367.9},{"s":"fast","t":964,"p":3369.8},{"s":"fast","t":967,"p":3371.3},{"s":"fast","t":970,"p":3371.4},{"s":"fast","t":973,"p":3371.6},{"s":"fast","t":976,"p":3372.9},{"s":"fast","t":979,"p":3374.6},{"s":"fast","t":982,"p":3376.0},{"s":"fast","t":985,"p":3376.3},{"s":"fast","t":988,"p":3375.7},{"s":"fast","t":991,"p":3376.0},{"s":"fast","t":994,"p":3376.6},{"s":"fast","t":997,"p":3375.1},{"s":"fast","t":1000,"p":3375.4},{"s":"fast","t":1003,"p":3375.8},{"s":"fast","t":1006,"p":3376.6},{"s":"fast","t":1009,"p":3379.7},{"s":"fast","t":1012,"p":3382.6},{"s":"fast","t":1015,"p":3384.2},{"s":"fast","t":1018,"p":3384.0},{"s":"fast","t":1021,"p":3383.3},{"s":"fast","t":1024,"p":3383.1},{"s":"fast","t":1027,"p":3381.5},{"s":"fast","t":1030,"p":3380.4},{"s":"fast","t":1033,"p":3378.9},{"s":"fast","t":1036,"p":3377.5},{"s":"fast","t":1039,"p":3376.9},{"s":"fast","t":1042,"p":3376.4},{"s":"fast","t":1045,"p":3376.8},{"s":"fast","t":1048,"p":3378.1},{"s":"fast","t":1051,"p":3378.8},{"s":"fast","t":1054,"p":3379.1},{"s":"fast","t":1057,"p":3379.4},{"s":"fast","t":1060,"p":3379.0},{"s":"fast","t":1063,"p":3378.2},{"s":"fast","t":1066,"p":3377.3},{"s":"fast","t":1069,"p":3375.9},{"s":"fast","t":1072,"p":3374.2},{"s":"fast","t":1075,"p":3373.0},{"s":"fast","t":1078,"p":3374.0},{"s":"fast","t":1081,"p":3374.3},{"s":"fast","t":1084,"p":3374.6},{"s":"fast","t":1087,"p":3374.7},{"s":"fast","t":1090,"p":3373.3},{"s":"fast","t":1093,"p":3373.0},{"s":"fast","t":1096,"p":3373.7},{"s":"fast","t":1099,"p":3374.1},{"s":"fast","t":1102,"p":3373.8},{"s":"fast","t":1105,"p":3373.2},{"s":"fast","t":1108,"p":3372.8},{"s":"fast","t":1111,"p":3372.3},{"s":"fast","t":1114,"p":3372.1},{"s":"fast","t":1117,"p":3373.4},{"s":"fast","t":1120,"p":3374.6},{"s":"fast","t":1123,"p":3375.2},{"s":"fast","t":1126,"p":3375.4},{"s":"fast","t":1129,"p":3375.5},{"s":"fast","t":1132,"p":3375.0},{"s":"fast","t":1135,"p":3374.6},{"s":"fast","t":1138,"p":3374.5},{"s":"fast","t":1141,"p":3374.8},{"s":"fast","t":1144,"p":3375.0},{"s":"fast","t":1147,"p":3375.1},{"s":"fast","t":1150,"p":3376.1},{"s":"fast","t":1153,"p":3377.3},{"s":"fast","t":1156,"p":3377.7},{"s":"fast","t":1159,"p":3377.1},{"s":"fast","t":1162,"p":3376.7},{"s":"fast","t":1165,"p":3375.8},{"s":"fast","t":1168,"p":3374.0},{"s":"fast","t":1171,"p":3373.4},{"s":"fast","t":1174,"p":3372.9},{"s":"fast","t":1177,"p":3372.5},{"s":"fast","t":1180,"p":3372.0},{"s":"fast","t":1183,"p":3371.6}
],
"hist":[
{"t":808,"a":3358.05,"b":3357.15,"k":"blue"},{"t":809,"a":3358.05,"b":3357.15,"k":"blue"},{"t":810,"a":3358.05,"b":3357.15,"k":"blue"},{"t":811,"a":3358.05,"b":3357.2,"k":"blue"},{"t":812,"a":3358.0,"b":3356.8,"k":"pink"},{"t":813,"a":3358.0,"b":3357.5,"k":"pink"},{"t":814,"a":3358.0,"b":3357.6,"k":"grey"},{"t":815,"a":3358.0,"b":3357.6,"k":"pink"},{"t":816,"a":3358.0,"b":3357.65,"k":"grey"},{"t":817,"a":3358.0,"b":3357.65,"k":"pink"},{"t":818,"a":3358.0,"b":3357.7,"k":"grey"},{"t":819,"a":3358.0,"b":3357.7,"k":"grey"},{"t":820,"a":3358.0,"b":3357.7,"k":"pink"},{"t":821,"a":3358.0,"b":3357.75,"k":"grey"},{"t":822,"a":3358.0,"b":3357.75,"k":"pink"},{"t":823,"a":3358.0,"b":3357.75,"k":"grey"},{"t":824,"a":3358.0,"b":3357.8,"k":"grey"},{"t":825,"a":3358.0,"b":3357.8,"k":"pink"},{"t":829,"a":3358.0,"b":3357.6,"k":"blue"},{"t":830,"a":3358.0,"b":3357.5,"k":"blue"},{"t":831,"a":3358.0,"b":3357.6,"k":"pink"},{"t":832,"a":3358.0,"b":3357.6,"k":"pink"},{"t":833,"a":3358.0,"b":3357.7,"k":"grey"},{"t":835,"a":3358.0,"b":3357.75,"k":"pink"},{"t":836,"a":3358.0,"b":3357.8,"k":"grey"},{"t":837,"a":3358.0,"b":3357.8,"k":"grey"},{"t":838,"a":3358.0,"b":3357.85,"k":"blue"},{"t":839,"a":3358.0,"b":3357.85,"k":"grey"},{"t":841,"a":3358.2,"b":3357.95,"k":"pink"},{"t":842,"a":3358.4,"b":3357.95,"k":"pink"},{"t":843,"a":3358.6,"b":3358.0,"k":"pink"},{"t":844,"a":3358.9,"b":3358.05,"k":"pink"},{"t":845,"a":3359.2,"b":3358.1,"k":"pink"},{"t":847,"a":3358.3,"b":3357.3,"k":"pink"},{"t":848,"a":3358.4,"b":3357.35,"k":"pink"},{"t":849,"a":3358.45,"b":3357.35,"k":"pink"},
{"t":943,"a":3363.6,"b":3362.9,"k":"grey"},{"t":944,"a":3363.6,"b":3362.9,"k":"grey"},{"t":945,"a":3363.7,"b":3362.95,"k":"grey"},{"t":946,"a":3363.8,"b":3363.1,"k":"pink"},
{"t":1092,"a":3373.9,"b":3373.2,"k":"grey"},{"t":1093,"a":3373.95,"b":3373.2,"k":"grey"},{"t":1094,"a":3374.0,"b":3373.2,"k":"grey"},{"t":1095,"a":3374.0,"b":3373.2,"k":"pink"},{"t":1096,"a":3374.05,"b":3373.2,"k":"pink"},{"t":1097,"a":3374.1,"b":3373.2,"k":"pink"},{"t":1098,"a":3374.1,"b":3373.2,"k":"grey"},{"t":1099,"a":3374.1,"b":3373.2,"k":"grey"},{"t":1100,"a":3374.0,"b":3373.2,"k":"grey"},{"t":1101,"a":3373.8,"b":3373.2,"k":"blue"},{"t":1102,"a":3373.7,"b":3373.1,"k":"blue"},{"t":1103,"a":3373.6,"b":3372.9,"k":"blue"},{"t":1104,"a":3373.5,"b":3372.8,"k":"blue"},{"t":1105,"a":3373.5,"b":3372.7,"k":"blue"},{"t":1106,"a":3373.45,"b":3372.7,"k":"blue"},{"t":1107,"a":3373.4,"b":3372.75,"k":"blue"},{"t":1108,"a":3373.4,"b":3372.8,"k":"blue"},{"t":1109,"a":3373.3,"b":3372.9,"k":"grey"},{"t":1110,"a":3373.25,"b":3372.95,"k":"grey"},{"t":1111,"a":3373.2,"b":3372.8,"k":"blue"},
{"t":1113,"a":3373.7,"b":3373.2,"k":"grey"},{"t":1114,"a":3373.9,"b":3373.2,"k":"grey"},{"t":1115,"a":3374.1,"b":3373.2,"k":"pink"},{"t":1116,"a":3374.5,"b":3373.3,"k":"pink"},{"t":1117,"a":3374.2,"b":3373.3,"k":"pink"},{"t":1118,"a":3374.6,"b":3373.4,"k":"pink"},{"t":1119,"a":3375.0,"b":3374.6,"k":"pink"},{"t":1120,"a":3375.1,"b":3374.6,"k":"grey"},{"t":1121,"a":3375.3,"b":3374.6,"k":"pink"},{"t":1122,"a":3375.3,"b":3374.6,"k":"grey"},{"t":1123,"a":3375.4,"b":3374.6,"k":"pink"},{"t":1124,"a":3375.5,"b":3374.6,"k":"pink"},{"t":1125,"a":3375.5,"b":3374.6,"k":"pink"},{"t":1126,"a":3375.5,"b":3374.6,"k":"grey"},{"t":1127,"a":3375.4,"b":3374.6,"k":"pink"},{"t":1128,"a":3375.2,"b":3374.6,"k":"grey"},{"t":1129,"a":3375.0,"b":3374.6,"k":"pink"},{"t":1130,"a":3374.9,"b":3374.6,"k":"blue"},{"t":1131,"a":3374.8,"b":3374.6,"k":"grey"},{"t":1133,"a":3374.75,"b":3374.55,"k":"blue"},{"t":1134,"a":3374.75,"b":3374.55,"k":"grey"},{"t":1135,"a":3374.75,"b":3374.55,"k":"blue"},{"t":1137,"a":3374.9,"b":3374.6,"k":"pink"},{"t":1138,"a":3375.0,"b":3374.6,"k":"pink"},{"t":1139,"a":3374.9,"b":3374.6,"k":"grey"},{"t":1140,"a":3375.1,"b":3374.6,"k":"pink"},{"t":1141,"a":3375.1,"b":3374.6,"k":"pink"},{"t":1142,"a":3375.0,"b":3374.65,"k":"grey"},{"t":1143,"a":3375.1,"b":3374.65,"k":"pink"},{"t":1144,"a":3375.0,"b":3374.65,"k":"grey"},{"t":1145,"a":3375.4,"b":3374.7,"k":"pink"},{"t":1146,"a":3375.7,"b":3374.7,"k":"pink"},{"t":1147,"a":3376.0,"b":3374.7,"k":"pink"},{"t":1148,"a":3376.2,"b":3374.75,"k":"pink"},{"t":1149,"a":3376.3,"b":3374.8,"k":"pink"},
{"t":1165,"a":3376.2,"b":3375.1,"k":"blue"},{"t":1169,"a":3375.05,"b":3373.9,"k":"blue"},{"t":1170,"a":3375.05,"b":3373.9,"k":"blue"},{"t":1171,"a":3375.05,"b":3373.85,"k":"blue"},{"t":1172,"a":3375.0,"b":3373.85,"k":"blue"},{"t":1173,"a":3375.0,"b":3373.8,"k":"blue"},{"t":1174,"a":3374.95,"b":3373.75,"k":"blue"},{"t":1175,"a":3374.95,"b":3373.7,"k":"blue"},{"t":1176,"a":3374.9,"b":3373.65,"k":"blue"}
]
},
"layer":[
{"data":{"name":"hist"},"mark":{"type":"rule","strokeWidth":3,"clip":true},
"encoding":{
"x":{"field":"t","type":"quantitative","title":null,"scale":{"domain":[807.875,1183.875],"nice":false,"zero":false,"padding":0},"axis":{"orient":"bottom","title":null,"values":[807.875,823,839,855,871,887,903,919,935,951,967,983,999,1015,1031,1047,1063,1079,1095,1111,1127,1143,1159,1175],"labelExpr":"datum.value < 810 ? '4 Aug 2025' : '4 Aug ' + floor(datum.value/60) + ':' + format(datum.value % 60, '02d')","labelAlign":"left","labelBaseline":"top","labelPadding":2,"tickSize":4,"labelFontSize":8,"labelOverlap":false,"labelFlush":false,"labelBound":false}},
"y":{"field":"a","type":"quantitative","title":null,"scale":{"domain":[3351.8,3386.54],"nice":false,"zero":false,"padding":0},"axis":{"orient":"right","title":null,"values":[3353.5,3355.2,3356.9,3358.6,3360.3,3362.0,3363.7,3365.4,3367.1,3368.8,3370.5,3372.2,3373.9,3375.6,3377.3,3379.0,3380.7,3382.4,3384.1,3385.8],"format":".2f","labelAlign":"left","labelBaseline":"middle","labelPadding":1,"tickSize":4,"labelFontSize":8.5,"labelOverlap":false,"labelFlush":false,"labelBound":false}},
"y2":{"field":"b"},
"color":{"field":"k","type":"nominal","scale":{"domain":["pink","grey","blue"],"range":["#e79bc0","#a9a9ad","#3aa3dc"]},"legend":null}}},
{"data":{"name":"candles"},"mark":{"type":"rule","strokeWidth":1,"color":"#3de23d","clip":true},
"encoding":{
"x":{"field":"t","type":"quantitative","title":null,"scale":{"domain":[807.875,1183.875],"nice":false,"zero":false,"padding":0},"axis":{"orient":"bottom","title":null,"values":[807.875,823,839,855,871,887,903,919,935,951,967,983,999,1015,1031,1047,1063,1079,1095,1111,1127,1143,1159,1175],"labelExpr":"datum.value < 810 ? '4 Aug 2025' : '4 Aug ' + floor(datum.value/60) + ':' + format(datum.value % 60, '02d')","labelAlign":"left","labelBaseline":"top","labelPadding":2,"tickSize":4,"labelFontSize":8,"labelOverlap":false,"labelFlush":false,"labelBound":false}},
"y":{"field":"l","type":"quantitative","title":null,"scale":{"domain":[3351.8,3386.54],"nice":false,"zero":false,"padding":0},"axis":{"orient":"right","title":null,"values":[3353.5,3355.2,3356.9,3358.6,3360.3,3362.0,3363.7,3365.4,3367.1,3368.8,3370.5,3372.2,3373.9,3375.6,3377.3,3379.0,3380.7,3382.4,3384.1,3385.8],"format":".2f","labelAlign":"left","labelBaseline":"middle","labelPadding":1,"tickSize":4,"labelFontSize":8.5,"labelOverlap":false,"labelFlush":false,"labelBound":false}},
"y2":{"field":"h"}}},
{"data":{"name":"candles"},"mark":{"type":"bar","width":2,"fill":"#c4f5ad","stroke":"#3de23d","strokeWidth":1,"clip":true},
"encoding":{
"x":{"field":"t","type":"quantitative","title":null,"scale":{"domain":[807.875,1183.875],"nice":false,"zero":false,"padding":0},"axis":{"orient":"bottom","title":null,"values":[807.875,823,839,855,871,887,903,919,935,951,967,983,999,1015,1031,1047,1063,1079,1095,1111,1127,1143,1159,1175],"labelExpr":"datum.value < 810 ? '4 Aug 2025' : '4 Aug ' + floor(datum.value/60) + ':' + format(datum.value % 60, '02d')","labelAlign":"left","labelBaseline":"top","labelPadding":2,"tickSize":4,"labelFontSize":8,"labelOverlap":false,"labelFlush":false,"labelBound":false}},
"y":{"field":"o","type":"quantitative","title":null,"scale":{"domain":[3351.8,3386.54],"nice":false,"zero":false,"padding":0},"axis":{"orient":"right","title":null,"values":[3353.5,3355.2,3356.9,3358.6,3360.3,3362.0,3363.7,3365.4,3367.1,3368.8,3370.5,3372.2,3373.9,3375.6,3377.3,3379.0,3380.7,3382.4,3384.1,3385.8],"format":".2f","labelAlign":"left","labelBaseline":"middle","labelPadding":1,"tickSize":4,"labelFontSize":8.5,"labelOverlap":false,"labelFlush":false,"labelBound":false}},
"y2":{"field":"c"}}},
{"data":{"name":"ma"},"mark":{"type":"line","strokeWidth":1,"clip":true,"interpolate":"monotone"},
"encoding":{
"x":{"field":"t","type":"quantitative","title":null,"scale":{"domain":[807.875,1183.875],"nice":false,"zero":false,"padding":0},"axis":{"orient":"bottom","title":null,"values":[807.875,823,839,855,871,887,903,919,935,951,967,983,999,1015,1031,1047,1063,1079,1095,1111,1127,1143,1159,1175],"labelExpr":"datum.value < 810 ? '4 Aug 2025' : '4 Aug ' + floor(datum.value/60) + ':' + format(datum.value % 60, '02d')","labelAlign":"left","labelBaseline":"top","labelPadding":2,"tickSize":4,"labelFontSize":8,"labelOverlap":false,"labelFlush":false,"labelBound":false}},
"y":{"field":"p","type":"quantitative","title":null,"scale":{"domain":[3351.8,3386.54],"nice":false,"zero":false,"padding":0},"axis":{"orient":"right","title":null,"values":[3353.5,3355.2,3356.9,3358.6,3360.3,3362.0,3363.7,3365.4,3367.1,3368.8,3370.5,3372.2,3373.9,3375.6,3377.3,3379.0,3380.7,3382.4,3384.1,3385.8],"format":".2f","labelAlign":"left","labelBaseline":"middle","labelPadding":1,"tickSize":4,"labelFontSize":8.5,"labelOverlap":false,"labelFlush":false,"labelBound":false}},
"color":{"field":"s","type":"nominal","scale":{"domain":["ma200","ma100","ma50","mid","fast"],"range":["#f2a55a","#3cb4ec","#9a55e8","#5fa33a","#f1f36a"]},"legend":null},
"order":{"field":"t","type":"quantitative"}}},
{"data":{"values":[{"box":1}]},"mark":{"type":"rect","color":{"gradient":"linear","x1":0,"y1":0,"x2":0,"y2":1,"stops":[{"offset":0,"color":"#2a2ae0"},{"offset":1,"color":"#0a0aa8"}]}},
"encoding":{"x":{"datum":807.875,"type":"quantitative","title":null,"scale":{"domain":[807.875,1183.875],"nice":false,"zero":false,"padding":0},"axis":{"orient":"bottom","title":null,"values":[807.875,823,839,855,871,887,903,919,935,951,967,983,999,1015,1031,1047,1063,1079,1095,1111,1127,1143,1159,1175],"labelExpr":"datum.value < 810 ? '4 Aug 2025' : '4 Aug ' + floor(datum.value/60) + ':' + format(datum.value % 60, '02d')","labelAlign":"left","labelBaseline":"top","labelPadding":2,"tickSize":4,"labelFontSize":8,"labelOverlap":false,"labelFlush":false,"labelBound":false}},"x2":{"datum":830.875},
"y":{"datum":3386.54,"type":"quantitative","title":null,"scale":{"domain":[3351.8,3386.54],"nice":false,"zero":false,"padding":0},"axis":{"orient":"right","title":null,"values":[3353.5,3355.2,3356.9,3358.6,3360.3,3362.0,3363.7,3365.4,3367.1,3368.8,3370.5,3372.2,3373.9,3375.6,3377.3,3379.0,3380.7,3382.4,3384.1,3385.8],"format":".2f","labelAlign":"left","labelBaseline":"middle","labelPadding":1,"tickSize":4,"labelFontSize":8.5,"labelOverlap":false,"labelFlush":false,"labelBound":false}},"y2":{"datum":3384.69}}},
{"data":{"values":[{"box":2}]},"mark":{"type":"rect","color":{"gradient":"linear","x1":0,"y1":0,"x2":0,"y2":1,"stops":[{"offset":0,"color":"#2a2ae0"},{"offset":1,"color":"#0a0aa8"}]}},
"encoding":{"x":{"datum":831.875,"type":"quantitative","title":null,"scale":{"domain":[807.875,1183.875],"nice":false,"zero":false,"padding":0},"axis":{"orient":"bottom","title":null,"values":[807.875,823,839,855,871,887,903,919,935,951,967,983,999,1015,1031,1047,1063,1079,1095,1111,1127,1143,1159,1175],"labelExpr":"datum.value < 810 ? '4 Aug 2025' : '4 Aug ' + floor(datum.value/60) + ':' + format(datum.value % 60, '02d')","labelAlign":"left","labelBaseline":"top","labelPadding":2,"tickSize":4,"labelFontSize":8,"labelOverlap":false,"labelFlush":false,"labelBound":false}},"x2":{"datum":854.375},
"y":{"datum":3386.54,"type":"quantitative","title":null,"scale":{"domain":[3351.8,3386.54],"nice":false,"zero":false,"padding":0},"axis":{"orient":"right","title":null,"values":[3353.5,3355.2,3356.9,3358.6,3360.3,3362.0,3363.7,3365.4,3367.1,3368.8,3370.5,3372.2,3373.9,3375.6,3377.3,3379.0,3380.7,3382.4,3384.1,3385.8],"format":".2f","labelAlign":"left","labelBaseline":"middle","labelPadding":1,"tickSize":4,"labelFontSize":8.5,"labelOverlap":false,"labelFlush":false,"labelBound":false}},"y2":{"datum":3384.69}}},
{"data":{"values":[{"box":1}]},"mark":{"type":"text","text":"3335","align":"left","baseline":"alphabetic","color":"#ffffff","font":"DejaVu Sans","fontSize":10.5},
"encoding":{"x":{"datum":811.625,"type":"quantitative","title":null,"scale":{"domain":[807.875,1183.875],"nice":false,"zero":false,"padding":0},"axis":{"orient":"bottom","title":null,"values":[807.875,823,839,855,871,887,903,919,935,951,967,983,999,1015,1031,1047,1063,1079,1095,1111,1127,1143,1159,1175],"labelExpr":"datum.value < 810 ? '4 Aug 2025' : '4 Aug ' + floor(datum.value/60) + ':' + format(datum.value % 60, '02d')","labelAlign":"left","labelBaseline":"top","labelPadding":2,"tickSize":4,"labelFontSize":8,"labelOverlap":false,"labelFlush":false,"labelBound":false}},
"y":{"datum":3385.06,"type":"quantitative","title":null,"scale":{"domain":[3351.8,3386.54],"nice":false,"zero":false,"padding":0},"axis":{"orient":"right","title":null,"values":[3353.5,3355.2,3356.9,3358.6,3360.3,3362.0,3363.7,3365.4,3367.1,3368.8,3370.5,3372.2,3373.9,3375.6,3377.3,3379.0,3380.7,3382.4,3384.1,3385.8],"format":".2f","labelAlign":"left","labelBaseline":"middle","labelPadding":1,"tickSize":4,"labelFontSize":8.5,"labelOverlap":false,"labelFlush":false,"labelBound":false}}}},
{"data":{"values":[{"box":1}]},"mark":{"type":"text","text":"95","align":"left","baseline":"alphabetic","color":"#ffffff","font":"Open Sans","fontSize":26},
"encoding":{"x":{"datum":819.375,"type":"quantitative","title":null,"scale":{"domain":[807.875,1183.875],"nice":false,"zero":false,"padding":0},"axis":{"orient":"bottom","title":null,"values":[807.875,823,839,855,871,887,903,919,935,951,967,983,999,1015,1031,1047,1063,1079,1095,1111,1127,1143,1159,1175],"labelExpr":"datum.value < 810 ? '4 Aug 2025' : '4 Aug ' + floor(datum.value/60) + ':' + format(datum.value % 60, '02d')","labelAlign":"left","labelBaseline":"top","labelPadding":2,"tickSize":4,"labelFontSize":8,"labelOverlap":false,"labelFlush":false,"labelBound":false}},
"y":{"datum":3385.06,"type":"quantitative","title":null,"scale":{"domain":[3351.8,3386.54],"nice":false,"zero":false,"padding":0},"axis":{"orient":"right","title":null,"values":[3353.5,3355.2,3356.9,3358.6,3360.3,3362.0,3363.7,3365.4,3367.1,3368.8,3370.5,3372.2,3373.9,3375.6,3377.3,3379.0,3380.7,3382.4,3384.1,3385.8],"format":".2f","labelAlign":"left","labelBaseline":"middle","labelPadding":1,"tickSize":4,"labelFontSize":8.5,"labelOverlap":false,"labelFlush":false,"labelBound":false}}}},
{"data":{"values":[{"box":2}]},"mark":{"type":"text","text":"3336","align":"left","baseline":"alphabetic","color":"#ffffff","font":"DejaVu Sans","fontSize":10.5},
"encoding":{"x":{"datum":835.375,"type":"quantitative","title":null,"scale":{"domain":[807.875,1183.875],"nice":false,"zero":false,"padding":0},"axis":{"orient":"bottom","title":null,"values":[807.875,823,839,855,871,887,903,919,935,951,967,983,999,1015,1031,1047,1063,1079,1095,1111,1127,1143,1159,1175],"labelExpr":"datum.value < 810 ? '4 Aug 2025' : '4 Aug ' + floor(datum.value/60) + ':' + format(datum.value % 60, '02d')","labelAlign":"left","labelBaseline":"top","labelPadding":2,"tickSize":4,"labelFontSize":8,"labelOverlap":false,"labelFlush":false,"labelBound":false}},
"y":{"datum":3385.06,"type":"quantitative","title":null,"scale":{"domain":[3351.8,3386.54],"nice":false,"zero":false,"padding":0},"axis":{"orient":"right","title":null,"values":[3353.5,3355.2,3356.9,3358.6,3360.3,3362.0,3363.7,3365.4,3367.1,3368.8,3370.5,3372.2,3373.9,3375.6,3377.3,3379.0,3380.7,3382.4,3384.1,3385.8],"format":".2f","labelAlign":"left","labelBaseline":"middle","labelPadding":1,"tickSize":4,"labelFontSize":8.5,"labelOverlap":false,"labelFlush":false,"labelBound":false}}}},
{"data":{"values":[{"box":2}]},"mark":{"type":"text","text":"16","align":"left","baseline":"alphabetic","color":"#ffffff","font":"Open Sans","fontSize":26},
"encoding":{"x":{"datum":843.625,"type":"quantitative","title":null,"scale":{"domain":[807.875,1183.875],"nice":false,"zero":false,"padding":0},"axis":{"orient":"bottom","title":null,"values":[807.875,823,839,855,871,887,903,919,935,951,967,983,999,1015,1031,1047,1063,1079,1095,1111,1127,1143,1159,1175],"labelExpr":"datum.value < 810 ? '4 Aug 2025' : '4 Aug ' + floor(datum.value/60) + ':' + format(datum.value % 60, '02d')","labelAlign":"left","labelBaseline":"top","labelPadding":2,"tickSize":4,"labelFontSize":8,"labelOverlap":false,"labelFlush":false,"labelBound":false}},
"y":{"datum":3385.06,"type":"quantitative","title":null,"scale":{"domain":[3351.8,3386.54],"nice":false,"zero":false,"padding":0},"axis":{"orient":"right","title":null,"values":[3353.5,3355.2,3356.9,3358.6,3360.3,3362.0,3363.7,3365.4,3367.1,3368.8,3370.5,3372.2,3373.9,3375.6,3377.3,3379.0,3380.7,3382.4,3384.1,3385.8],"format":".2f","labelAlign":"left","labelBaseline":"middle","labelPadding":1,"tickSize":4,"labelFontSize":8.5,"labelOverlap":false,"labelFlush":false,"labelBound":false}}}}
],
"resolve":{"scale":{"color":"independent"}}
}
